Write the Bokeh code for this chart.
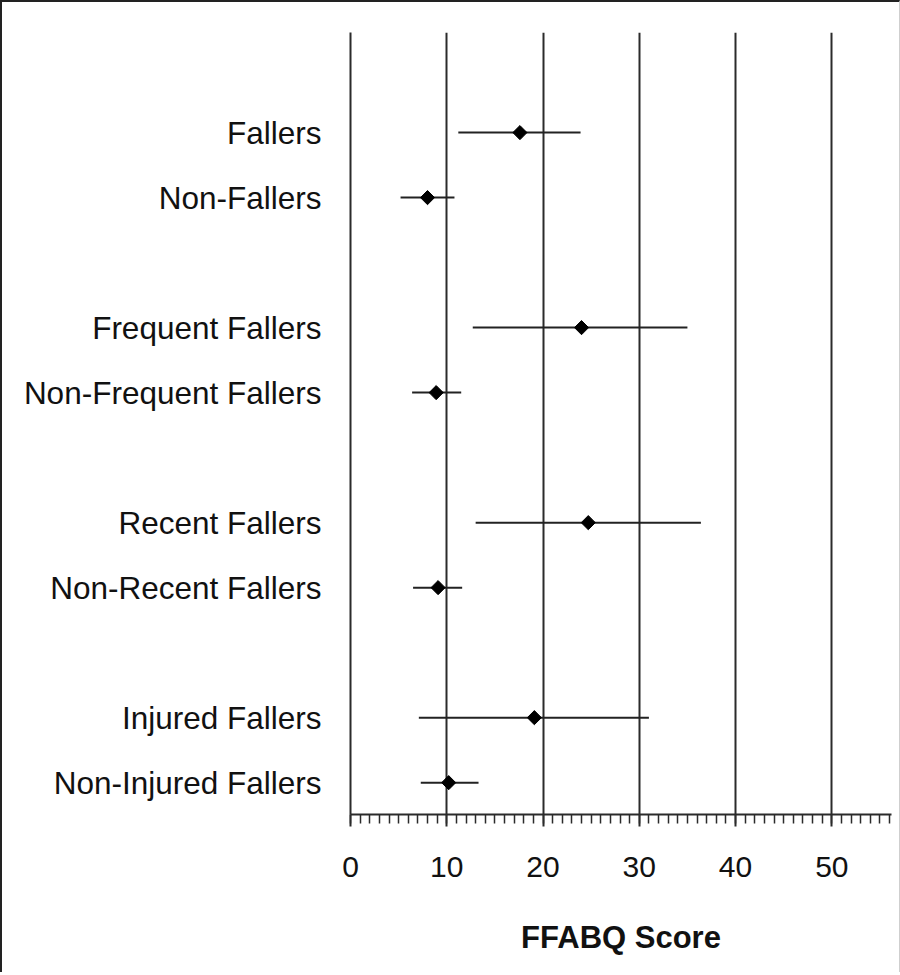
import math
from bokeh.plotting import figure
from bokeh.models import FixedTicker, Range1d, ColumnDataSource, SingleIntervalTicker
from bokeh.embed import file_html
from bokeh.resources import INLINE

# ---- data ----
categories = ["Fallers", "Non-Fallers",
              "Frequent Fallers", "Non-Frequent Fallers",
              "Recent Fallers", "Non-Recent Fallers",
              "Injured Fallers", "Non-Injured Fallers"]
group_index = [0, 0, 1, 1, 2, 2, 3, 3]
within_index = [0, 1, 0, 1, 0, 1, 0, 1]
means = [17.6, 8.0, 24.0, 8.9, 24.7, 9.1, 19.1, 10.2]
lower = [11.2, 5.2, 12.7, 6.4, 13.0, 6.5, 7.1, 7.3]
upper = [23.9, 10.8, 35.0, 11.5, 36.4, 11.6, 31.0, 13.3]
x_label = "FFABQ Score"
x_max = 56.2

# category slot positions: 3 slots per group (2 rows + a gap)
ypos = [g * 3 + i for g, i in zip(group_index, within_index)]

src = ColumnDataSource(dict(y=ypos, m=means, lo=lower, hi=upper, cat=categories))

FONT = "Liberation Sans"
DARK = "#2b2b2b"

p = figure(width=900, height=972, output_backend="svg", toolbar_location=None,
           x_range=Range1d(0, x_max), y_range=Range1d(max(ypos) + 0.49, -1.54),
           min_border_left=348, min_border_right=11, min_border_top=30, min_border_bottom=160,
           background_fill_color="white", border_fill_color="white")
p.outline_line_color = None
p.styles = {"border-left": "2px solid #222", "border-top": "2px solid #222",
            "border-right": "1px solid #cfcfcf"}

# grid
p.ygrid.grid_line_color = None
p.xgrid.ticker = SingleIntervalTicker(interval=10)
p.xgrid.grid_line_color = DARK
p.xgrid.grid_line_width = 2
p.xgrid.grid_line_alpha = 1

# x axis
xa = p.xaxis[0]
xa.ticker = SingleIntervalTicker(interval=10, num_minor_ticks=10)
xa.axis_line_color = DARK
xa.axis_line_width = 2
xa.major_tick_line_color = DARK
xa.major_tick_line_width = 2
xa.major_tick_in = 0
xa.major_tick_out = 12
xa.minor_tick_line_color = DARK
xa.minor_tick_line_width = 1.5
xa.minor_tick_in = 0
xa.minor_tick_out = 9
xa.major_label_text_font = FONT
xa.major_label_text_font_size = "30px"
xa.major_label_text_color = "#111"
xa.major_label_standoff = 30
xa.axis_label = x_label
xa.axis_label_text_font = FONT
xa.axis_label_text_font_size = "31px"
xa.axis_label_text_font_style = "bold"
xa.axis_label_text_color = "#111"
xa.axis_label_standoff = 40

# y axis
ya = p.yaxis[0]
ya.ticker = FixedTicker(ticks=ypos)
ya.major_label_overrides = {y: c for y, c in zip(ypos, categories)}
ya.axis_line_color = DARK
ya.axis_line_width = 2
ya.major_tick_line_color = None
ya.minor_tick_line_color = None
ya.major_tick_out = 0
ya.major_tick_in = 0
ya.major_label_standoff = 29
ya.major_label_text_font = FONT
ya.major_label_text_font_size = "31.5px"
ya.major_label_text_color = "#111"

# error bars and means
p.segment(x0="lo", x1="hi", y0="y", y1="y", source=src, line_color="#222", line_width=2)
p.scatter(x="m", y="y", source=src, marker="square", angle=math.pi / 4, size=10,
          fill_color="black", line_color="black")

open("out.html", "w").write(file_html(p, INLINE))
